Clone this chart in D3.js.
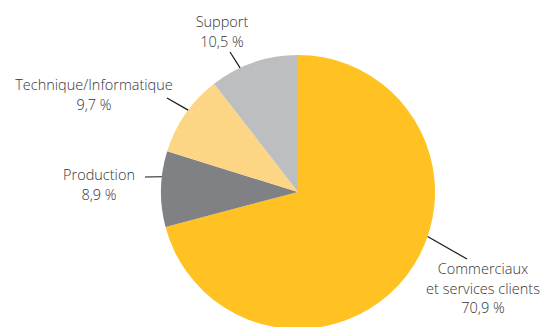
<!DOCTYPE html>
<html>
<head>
<meta charset="utf-8">
<script src="https://cdn.jsdelivr.net/npm/d3@7"></script>
<style>
  body { margin: 0; background: #fff; }
  svg text { font-family: "Open Sans", "DejaVu Sans", sans-serif; font-size: 14.5px; font-weight: 300; fill: #333; }
</style>
</head>
<body>
<div id="chart"></div>
<script>
// data
var categories = ["Commerciaux\net services clients", "Production", "Technique/Informatique", "Support"];
var shares = [70.9, 8.9, 9.7, 10.5];
var sliceColors = ["#ffc222", "#808184", "#fdd685", "#bdbec0"];

var width = 540, height = 327;
var cx = 298, cy = 192, radius = 137;

var svg = d3.select("#chart").append("svg")
    .attr("width", width)
    .attr("height", height);

var pie = d3.pie().sort(null).value(function(d) { return d.value; });
var arc = d3.arc().innerRadius(0).outerRadius(radius);

var data = categories.map(function(c, i) {
  return { name: c, value: shares[i], color: sliceColors[i] };
});

var g = svg.append("g").attr("transform", "translate(" + cx + "," + cy + ")");

g.selectAll("path")
  .data(pie(data))
  .enter()
  .append("path")
  .attr("d", arc)
  .style("fill", function(d) { return d.data.color; });

// label placement (angle in degrees clockwise from top where the leader touches the pie)
var layout = [
  { angle: 109, lineEnd: [467, 259], text: [483, 274] },
  { angle: 276.4, lineEnd: [145, 177], text: [99, 180] },
  { angle: 306.7, lineEnd: [167, 98], text: [94, 90] },
  { angle: 335, lineEnd: [230, 52], text: [222, 27] }
];

function fmt(v) { return d3.format(".1f")(v).replace(".", ",") + " %"; }

data.forEach(function(d, i) {
  var l = layout[i];
  var a = l.angle * Math.PI / 180;
  var x0 = cx + radius * Math.sin(a), y0 = cy - radius * Math.cos(a);
  svg.append("line")
    .attr("x1", x0).attr("y1", y0)
    .attr("x2", l.lineEnd[0]).attr("y2", l.lineEnd[1])
    .style("stroke", "#1a1a1a")
    .style("stroke-width", 1.2);

  var lines = d.name.split("\n").concat([fmt(d.value)]);
  var t = svg.append("text")
    .attr("text-anchor", "middle")
    .attr("x", l.text[0]).attr("y", l.text[1]);
  lines.forEach(function(s, j) {
    t.append("tspan")
      .attr("x", l.text[0])
      .attr("dy", j == 0 ? 0 : 19.5)
      .text(s);
  });
});
</script>
</body>
</html>
